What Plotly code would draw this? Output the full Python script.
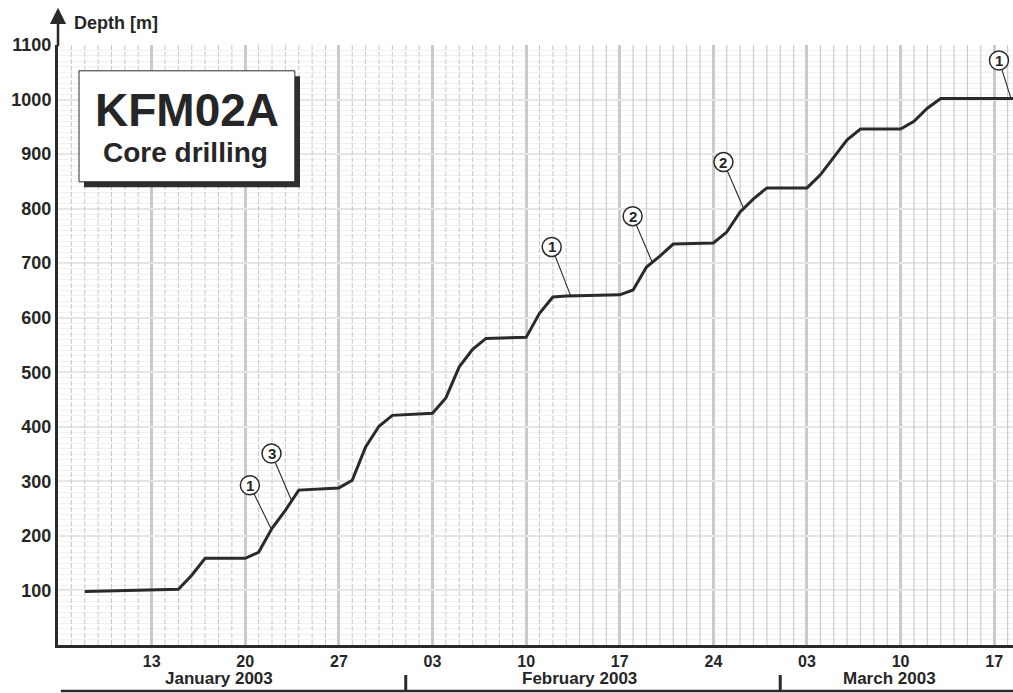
import pandas as pd
import plotly.graph_objects as go

TEXT_COLOUR = '#262626'
LINE_COLOUR = '#2a2a2a'
FONT = 'Liberation Sans, Arial, sans-serif'

# drilling progress
dates = ['2003-01-08', '2003-01-15', '2003-01-16', '2003-01-17', '2003-01-20',
         '2003-01-21', '2003-01-22', '2003-01-23', '2003-01-24', '2003-01-27',
         '2003-01-28', '2003-01-29', '2003-01-30', '2003-01-31', '2003-02-03',
         '2003-02-04', '2003-02-05', '2003-02-06', '2003-02-07', '2003-02-10',
         '2003-02-11', '2003-02-12', '2003-02-13', '2003-02-17', '2003-02-18',
         '2003-02-19', '2003-02-20', '2003-02-21', '2003-02-24', '2003-02-25',
         '2003-02-26', '2003-02-27', '2003-02-28', '2003-03-03', '2003-03-04',
         '2003-03-05', '2003-03-06', '2003-03-07', '2003-03-10', '2003-03-11',
         '2003-03-12', '2003-03-13', '2003-03-19']
depths = [98, 102, 128, 159, 159, 170, 214, 247, 284, 288, 302, 363, 401, 421,
          425, 453, 510, 542, 562, 564, 608, 638, 640, 642, 651, 693, 713, 735,
          737, 757, 794, 818, 838, 838, 862, 893, 926, 946, 946, 960, 984, 1002,
          1002]

# circled callouts
callout_labels = ['1', '3', '1', '2', '2', '1']
callout_dates = ['2003-01-21 22:00', '2003-01-23 11:00', '2003-02-13 08:00',
                 '2003-02-19 11:00', '2003-02-26 06:00', '2003-03-18 06:00']
callout_depths = [214, 265, 640, 700, 801, 1002]
callout_dx = [-21, -20, -19, -20, -20, -12]
callout_dy = [43, 47, 49, 47, 46, 38]

week_ticks = pd.date_range('2003-01-13', '2003-03-17', freq='7D')

months = ['January 2003', 'February 2003', 'March 2003']
month_label_dates = ['2003-01-18', '2003-02-14', '2003-03-09 04:00']
month_starts = ['2003-02-01', '2003-03-01']

X_START = '2003-01-06'
X_END = '2003-03-18 09:40'

fig = go.Figure()

# daily grid: dashed until mid February, solid afterwards
days = pd.date_range('2003-01-07', '2003-03-18')
dash_x, solid_x = [], []
for d in days:
    if d.weekday() == 0:
        continue
    target = dash_x if d < pd.Timestamp('2003-02-14') else solid_x
    target += [d, d, None]
fig.add_trace(go.Scatter(x=dash_x, y=[0, 1100, None] * (len(dash_x) // 3),
                         mode='lines', hoverinfo='skip',
                         line=dict(color='#c8c8c8', width=1, dash='5px,2px')))
fig.add_trace(go.Scatter(x=solid_x, y=[0, 1100, None] * (len(solid_x) // 3),
                         mode='lines', hoverinfo='skip',
                         line=dict(color='#cbcbcb', width=1.2)))

fig.add_trace(go.Scatter(x=dates, y=depths, mode='lines',
                         line=dict(color=LINE_COLOUR, width=3)))

shapes = []
annotations = []
for lab, cd, cy, dx, dy in zip(callout_labels, callout_dates, callout_depths,
                               callout_dx, callout_dy):
    shapes.append(dict(type='line', xref='x', yref='y', xsizemode='pixel',
                       ysizemode='pixel', xanchor=cd, yanchor=cy,
                       x0=0, y0=0, x1=dx, y1=dy,
                       line=dict(color=LINE_COLOUR, width=1.1)))
    shapes.append(dict(type='circle', xref='x', yref='y', xsizemode='pixel',
                       ysizemode='pixel', xanchor=cd, yanchor=cy,
                       x0=dx - 9.5, x1=dx + 9.5, y0=dy - 9.5, y1=dy + 9.5,
                       fillcolor='white', line=dict(color=LINE_COLOUR, width=1.5)))
    annotations.append(dict(x=cd, y=cy, xref='x', yref='y', xshift=dx, yshift=dy,
                            text=lab, showarrow=False, xanchor='center',
                            yanchor='middle',
                            font=dict(family=FONT, size=15, color=TEXT_COLOUR,
                                      weight='bold')))

# title box with shadow
shapes.append(dict(type='rect', xref='paper', yref='paper', x0=0.0272, x1=0.2534,
                   y0=0.763, y1=0.948, fillcolor='#2e2e2e', line=dict(width=0)))
shapes.append(dict(type='rect', xref='paper', yref='paper', x0=0.022, x1=0.248,
                   y0=0.772, y1=0.957, fillcolor='white',
                   line=dict(color=LINE_COLOUR, width=1)))
annotations.append(dict(x=0.135, y=0.892, xref='paper', yref='paper',
                        text='KFM02A', showarrow=False, xanchor='center',
                        yanchor='middle',
                        font=dict(family=FONT, size=46, color=TEXT_COLOUR,
                                  weight='bold')))
annotations.append(dict(x=0.133, y=0.821, xref='paper', yref='paper',
                        text='Core drilling', showarrow=False, xanchor='center',
                        yanchor='middle',
                        font=dict(family=FONT, size=28, color=TEXT_COLOUR,
                                  weight='bold')))

# axis arrow and title
annotations.append(dict(x=0, y=1.062, xref='paper', yref='paper', text='',
                        showarrow=True, ax=0, ay=40, arrowhead=2, arrowsize=1.3,
                        arrowwidth=2.5, arrowcolor=LINE_COLOUR))
annotations.append(dict(x=0.0143, y=1.037, xref='paper', yref='paper',
                        text='Depth [m]', showarrow=False, xanchor='left',
                        yanchor='middle',
                        font=dict(family=FONT, size=18, color=TEXT_COLOUR,
                                  weight='bold')))

# month row
for m, md in zip(months, month_label_dates):
    annotations.append(dict(x=md, y=-0.0565, xref='x', yref='paper', text=m,
                            showarrow=False, xanchor='center', yanchor='middle',
                            font=dict(family=FONT, size=17, color=TEXT_COLOUR,
                                      weight='bold')))
shapes.append(dict(type='line', xref='paper', yref='paper', x0=0.003, x1=1.0,
                   y0=-0.0767, y1=-0.0767, line=dict(color=LINE_COLOUR, width=2.5)))
for ms in month_starts:
    shapes.append(dict(type='line', xref='x', yref='paper', x0=ms, x1=ms,
                       y0=-0.05, y1=-0.0767, line=dict(color=LINE_COLOUR, width=3)))

fig.update_layout(
    width=1013, height=693,
    margin=dict(l=58, r=0, t=45, b=48),
    paper_bgcolor='white', plot_bgcolor='white',
    showlegend=False,
    shapes=shapes, annotations=annotations,
)
fig.update_xaxes(type='date', range=[X_START, X_END],
                 tickvals=list(week_ticks), tickformat='%d',
                 showgrid=True, gridcolor='#cacaca', gridwidth=3,
                 showline=True, linewidth=3, linecolor=LINE_COLOUR,
                 ticks='', zeroline=False,
                 tickfont=dict(family=FONT, size=16, color=TEXT_COLOUR,
                               weight='bold'))
fig.update_yaxes(range=[0, 1100], tickvals=list(range(100, 1101, 100)),
                 showgrid=True, gridcolor='#e6e6e6', gridwidth=2,
                 minor=dict(dtick=10, showgrid=True, gridcolor='#f1f1f1',
                            gridwidth=1),
                 showline=True, linewidth=3, linecolor=LINE_COLOUR,
                 ticks='', zeroline=False,
                 tickfont=dict(family=FONT, size=18, color=TEXT_COLOUR,
                               weight='bold'))

fig.write_html('out.html', config={'displayModeBar': False},
               post_script="document.body.style.margin='0';")
